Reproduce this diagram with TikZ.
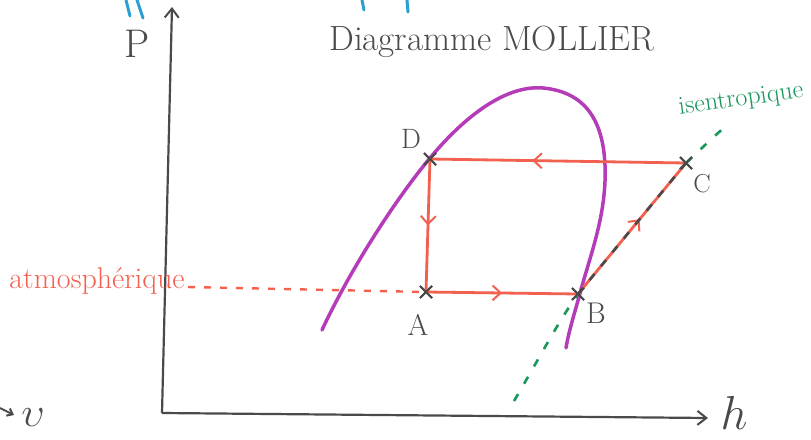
\documentclass[tikz,border=0pt]{standalone}
\usepackage{fontspec}
\usetikzlibrary{arrows.meta,decorations.markings,shapes.misc}
\definecolor{penred}{HTML}{F2604F}
\definecolor{penpurple}{HTML}{B43CB8}
\definecolor{pengreen}{HTML}{17975A}
\definecolor{pengrey}{HTML}{4A4A4A}
\definecolor{penblue}{HTML}{2A9FD0}
\tikzset{
  axisline/.style={pengrey, line width=2.2pt, -{Straight Barb[length=9pt,width=14pt,line width=2pt]}},
  cycleline/.style={penred, line width=2.8pt},
  midarrow/.style={postaction={decorate}, decoration={markings, mark=at position #1 with {\arrow[penred,line width=2pt]{Straight Barb[length=8pt,width=15pt]}}}},
  crossnode/.style={draw=pengrey, cross out, minimum size=10pt, inner sep=0pt, line width=2pt},
  ptlabel/.style={text=pengrey, inner sep=0pt, font=\fontsize{28}{30}\selectfont},
  domeline/.style={penpurple, line width=3.5pt, line cap=round},
  greendash/.style={pengreen, line width=2.6pt, dash pattern=on 8pt off 12pt},
  greydash/.style={pengrey, line width=2.6pt, dash pattern=on 8pt off 10pt},
  atmoline/.style={penred, line width=2.4pt, dash pattern=on 7pt off 9pt},
}
\begin{document}
\begin{tikzpicture}[x=1pt,y=-1pt]
\useasboundingbox (0,0) rectangle (811,439);
% blue fragments at top
\draw[penblue, line width=3pt, line cap=round] (126,0) -- (130,16);
\draw[penblue, line width=3pt, line cap=round] (137,0) -- (143,18);
\draw[penblue, line width=3pt, line cap=round] (362,0) -- (364,10);
\draw[penblue, line width=3pt, line cap=round] (407,0) -- (408,12);
% axes
\coordinate (O) at (162,413);
\coordinate (Ptop) at (172,7);
\coordinate (Hend) at (708,418);
\draw[axisline] (O) -- (Ptop);
\draw[axisline] (O) -- (Hend);
\node[ptlabel, font=\fontsize{40}{42}\selectfont] (Plab) at (137,44) {P};
\node[ptlabel, font=\fontsize{20}{22}\selectfont] (hlab) at (734,413) {\scalebox{2.3}{$h$}};
% v axis fragment
\coordinate (v1) at (0,408);
\coordinate (v2) at (14,415);
\draw[pengrey, line width=2pt, -{Straight Barb[length=5pt,width=8pt]}] (v1) -- (v2);
\node[ptlabel, font=\fontsize{20}{22}\selectfont] (vlab) at (33,418) {\scalebox{2}{$\upsilon$}};
% title
\node[text=pengrey, font=\fontsize{35}{38}\selectfont] (title) at (492,42) {Diagramme MOLLIER};
% saturation dome
\draw[domeline] (322,330) .. controls (350,270) and (395,200) .. (430,158)
  .. controls (470,110) and (510,85) .. (543,88)
  .. controls (585,92) and (603,120) .. (605,165)
  .. controls (607,215) and (590,255) .. (579,297)
  .. controls (573,318) and (568,335) .. (566,348);
% points
\node[crossnode] (D) at (430,159) {};
\node[crossnode] (C) at (686,163) {};
\node[crossnode] (A) at (426,292) {};
\node[crossnode] (B) at (578,294) {};
% atmospheric line
\coordinate (atmo) at (188,287);
\draw[atmoline] (atmo) -- (A.center);
\node[text=penred, font=\fontsize{30}{32}\selectfont] (atmolab) at (97,281) {atmosphérique};
% isentropic
\coordinate (is1) at (514,401);
\coordinate (is2) at (726,126);
\draw[greendash] (is1) .. controls (540,357) and (558,322) .. (B.center);
\draw[greendash] (C.center) .. controls (700,150) and (712,138) .. (is2);
\node[text=pengreen, font=\fontsize{26}{28}\selectfont, rotate=8] (isolab) at (741,100) {isentropique};
% cycle
\draw[cycleline, midarrow=0.5] (D.center) -- (A.center);
\draw[cycleline, midarrow=0.5] (A.center) -- (B.center);
\draw[cycleline, midarrow=0.57] (B.center) -- (C.center);
\draw[cycleline, midarrow=0.6] (C.center) -- (D.center);
\draw[greydash] (B.center) -- (C.center);
% redraw crosses on top
\node[crossnode] at (D) {};
\node[crossnode] at (C) {};
\node[crossnode] at (A) {};
\node[crossnode] at (B) {};
% labels
\node[ptlabel] (Dlab) at (411,139) {D};
\node[ptlabel, font=\fontsize{26}{28}\selectfont] (Clab) at (702,184) {C};
\node[ptlabel, font=\fontsize{30}{32}\selectfont] (Alab) at (418,325) {A};
\node[ptlabel, font=\fontsize{30}{32}\selectfont] (Blab) at (596,313) {B};
\end{tikzpicture}
\end{document}
